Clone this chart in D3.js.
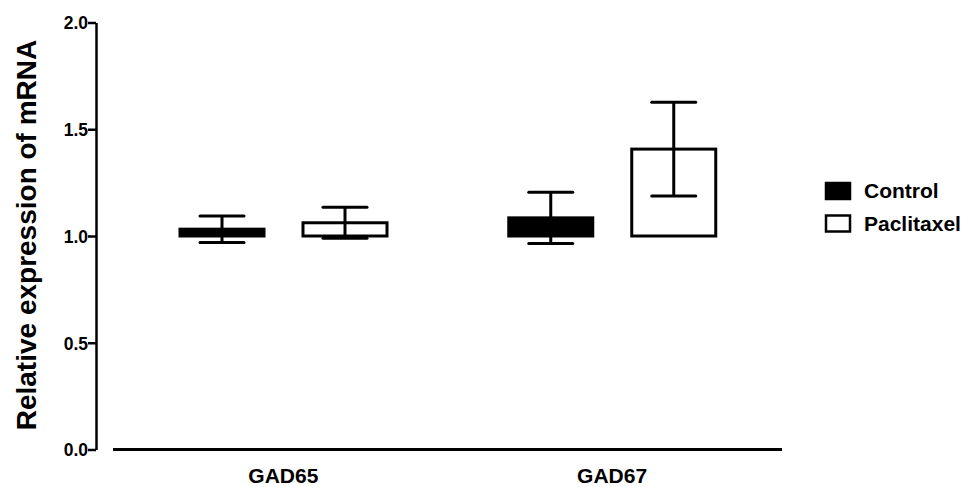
<!DOCTYPE html>
<html>
<head>
<meta charset="utf-8">
<script src="https://cdn.jsdelivr.net/npm/d3@7"></script>
<style>
html,body{margin:0;padding:0;background:#fff;}
svg{display:block;font-family:"Liberation Sans",Arial,Helvetica,sans-serif;}
</style>
</head>
<body>
<svg id="chart" width="975" height="487"></svg>
<script>
// Data
const genes = ["GAD65", "GAD67"];
const series = ["Control", "Paclitaxel"];
const controlMean = [1.032, 1.085];
const controlSem = [0.062, 0.12];
const paclitaxelMean = [1.062, 1.407];
const paclitaxelSem = [0.073, 0.22];
const yTicks = [0.0, 0.5, 1.0, 1.5, 2.0];
const baseline = 1.0;
const yTitle = "Relative expression of mRNA";

const means = {Control: controlMean, Paclitaxel: paclitaxelMean};
const sems = {Control: controlSem, Paclitaxel: paclitaxelSem};
const fills = {Control: "#000", Paclitaxel: "#fff"};

const svg = d3.select("#chart");
const y = d3.scaleLinear().domain([0, 2]).range([449.5, 22.5]);
const x0 = d3.scaleBand().domain(genes).range([119, 776.5]).padding(0);
const x1 = d3.scaleBand().domain(series).range([61, 268]).paddingInner(0.317).paddingOuter(0);

// Y axis
const yAxis = d3.axisLeft(y).tickValues(yTicks).tickFormat(d3.format(".1f")).tickSize(8).tickSizeOuter(0);
const gy = svg.append("g").attr("transform", "translate(96,0)").call(yAxis);
gy.select(".domain").attr("stroke", "#000").attr("stroke-width", 2.5);
gy.selectAll(".tick line").attr("stroke", "#000").attr("stroke-width", 2.5);
gy.selectAll(".tick text").attr("font-size", 17.5).attr("font-weight", "bold").attr("fill", "#000").attr("x", -8).attr("dy", "0.36em");

// X axis line
svg.append("line").attr("x1", 113).attr("x2", 782).attr("y1", y(0)).attr("y2", y(0))
  .attr("stroke", "#000").attr("stroke-width", 3);
svg.selectAll(".xlabel").data(genes).enter().append("text")
  .attr("x", d => x0(d) + x0.bandwidth() / 2).attr("y", 483)
  .attr("text-anchor", "middle").attr("font-size", 21).attr("font-weight", "bold").text(d => d);

// Bars
const rows = [];
genes.forEach((g, i) => series.forEach(s => rows.push({g, s, m: means[s][i], e: sems[s][i]})));

const groups = svg.selectAll(".bar").data(rows).enter().append("g")
  .attr("transform", d => `translate(${x0(d.g) + x1(d.s)},0)`);
groups.append("rect")
  .attr("x", 0).attr("width", x1.bandwidth())
  .attr("y", d => y(d.m)).attr("height", d => y(baseline) - y(d.m))
  .attr("fill", d => fills[d.s]).attr("stroke", "#000").attr("stroke-width", 3);
const cw = 44;
groups.append("line").attr("x1", x1.bandwidth()/2).attr("x2", x1.bandwidth()/2)
  .attr("y1", d => y(d.m + d.e)).attr("y2", d => y(d.m - d.e))
  .attr("stroke", "#000").attr("stroke-width", 3);
groups.append("line").attr("x1", x1.bandwidth()/2 - cw/2).attr("x2", x1.bandwidth()/2 + cw/2)
  .attr("y1", d => y(d.m + d.e)).attr("y2", d => y(d.m + d.e))
  .attr("stroke", "#000").attr("stroke-width", 3).attr("stroke-linecap", "round");
groups.append("line").attr("x1", x1.bandwidth()/2 - cw/2).attr("x2", x1.bandwidth()/2 + cw/2)
  .attr("y1", d => y(d.m - d.e)).attr("y2", d => y(d.m - d.e))
  .attr("stroke", "#000").attr("stroke-width", 3).attr("stroke-linecap", "round");

// Y title
svg.append("text").attr("transform", "translate(36,235) rotate(-90)")
  .attr("text-anchor", "middle").attr("font-size", 28).attr("font-weight", "bold").text(yTitle);

// Legend
const leg = svg.selectAll(".leg").data(series).enter().append("g")
  .attr("transform", (d, i) => `translate(826,${183 + i * 32.5})`);
leg.append("rect").attr("width", 24).attr("height", 16)
  .attr("fill", d => fills[d]).attr("stroke", "#000").attr("stroke-width", 2.5);
leg.append("text").attr("x", 38).attr("y", 15).attr("font-size", 21).attr("font-weight", "bold").text(d => d);
</script>
</body>
</html>
